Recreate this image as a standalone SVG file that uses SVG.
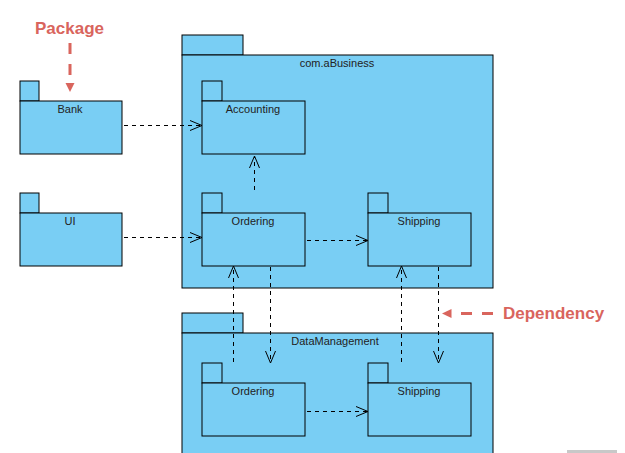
<svg xmlns="http://www.w3.org/2000/svg" width="625" height="453" viewBox="0 0 625 453">
<style>
.pk{fill:#79CEF4;stroke:#000;stroke-width:1}
.t{font-family:"Liberation Sans",Arial,sans-serif;font-size:11px;fill:#222;text-anchor:middle}
.dep{fill:none;stroke:#000;stroke-width:1;stroke-dasharray:4,4}
.ah{fill:none;stroke:#000;stroke-width:1}
.note{font-family:"Liberation Sans",Arial,sans-serif;font-size:17px;font-weight:bold;fill:#D9655D}
.nl{stroke:#D9655D;stroke-width:3;stroke-dasharray:11,10;fill:none}
</style>
<rect width="625" height="453" fill="#fff"/>
<g id="comBusiness">
<rect class="pk" x="182" y="35" width="61" height="20"/>
<rect class="pk" x="182" y="55" width="311" height="233"/>
<text class="t" x="337" y="67">com.aBusiness</text>
</g>
<g id="dataManagement">
<rect class="pk" x="182" y="313" width="61" height="20"/>
<rect class="pk" x="182" y="333" width="311" height="130"/>
<text class="t" x="335" y="345">DataManagement</text>
</g>
<g id="bank">
<rect class="pk" x="20" y="81" width="19" height="20"/>
<rect class="pk" x="20" y="101" width="102" height="53"/>
<text class="t" x="70" y="113">Bank</text>
</g>
<g id="ui">
<rect class="pk" x="20" y="193" width="19" height="20"/>
<rect class="pk" x="20" y="213" width="102" height="53"/>
<text class="t" x="70" y="225">UI</text>
</g>
<g id="accounting">
<rect class="pk" x="202" y="81" width="20" height="20"/>
<rect class="pk" x="202" y="101" width="103" height="53"/>
<text class="t" x="253" y="113">Accounting</text>
</g>
<g id="ordering">
<rect class="pk" x="202" y="193" width="20" height="20"/>
<rect class="pk" x="202" y="213" width="103" height="53"/>
<text class="t" x="253" y="225">Ordering</text>
</g>
<g id="shipping">
<rect class="pk" x="368" y="193" width="20" height="20"/>
<rect class="pk" x="368" y="213" width="103" height="53"/>
<text class="t" x="419" y="225">Shipping</text>
</g>
<g id="dmOrdering">
<rect class="pk" x="202" y="363" width="20" height="20"/>
<rect class="pk" x="202" y="383" width="103" height="53"/>
<text class="t" x="253" y="395">Ordering</text>
</g>
<g id="dmShipping">
<rect class="pk" x="368" y="363" width="20" height="20"/>
<rect class="pk" x="368" y="383" width="103" height="53"/>
<text class="t" x="419" y="395">Shipping</text>
</g>
<g id="connectors">
<path class="dep" d="M124 125.5H201"/>
<path class="ah" d="M190 120.5L202 125.5L190 130.5"/>
<path class="dep" d="M124 237.5H201"/>
<path class="ah" d="M190 232.5L202 237.5L190 242.5"/>
<path class="dep" d="M254.5 190V157"/>
<path class="ah" d="M249.5 168L254.5 156L259.5 168"/>
<path class="dep" d="M307 240.5H367"/>
<path class="ah" d="M356 235.5L368 240.5L356 245.5"/>
<path class="dep" d="M307 411.5H367"/>
<path class="ah" d="M356 406.5L368 411.5L356 416.5"/>
<path class="dep" d="M233.5 362V267"/>
<path class="ah" d="M228.5 278L233.5 266L238.5 278"/>
<path class="dep" d="M270.5 267V362"/>
<path class="ah" d="M265.5 351L270.5 363L275.5 351"/>
<path class="dep" d="M401.5 362V267"/>
<path class="ah" d="M396.5 278L401.5 266L406.5 278"/>
<path class="dep" d="M438.5 267V362"/>
<path class="ah" d="M433.5 351L438.5 363L443.5 351"/>
</g>
<g id="annotations">
<text class="note" x="35" y="34">Package</text>
<path class="nl" d="M70 43V76"/>
<path d="M65.5 83H74.5L70 92Z" fill="#D9655D"/>
<text class="note" x="503" y="319">Dependency</text>
<path class="nl" d="M493 313.5H455"/>
<path d="M451.5 309V318L442 313.5Z" fill="#D9655D"/>
</g>
<rect x="567" y="450" width="50" height="3" fill="#C8C8C8"/>
</svg>
